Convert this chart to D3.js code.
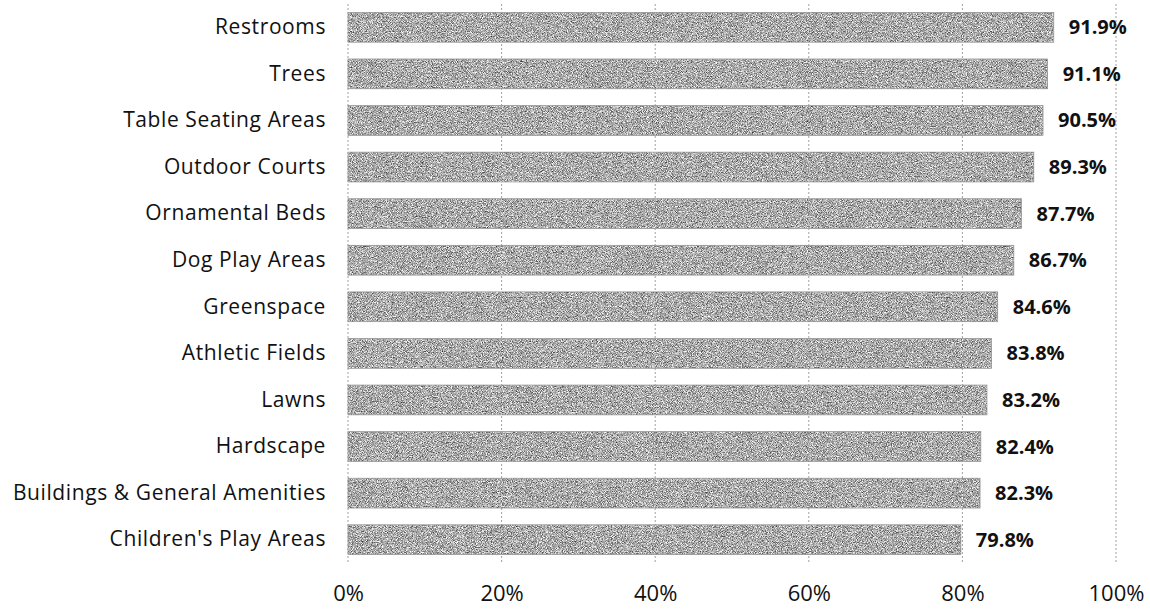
<!DOCTYPE html>
<html>
<head>
<meta charset="utf-8">
<script src="https://cdn.jsdelivr.net/npm/d3@7"></script>
<style>
  html, body { margin: 0; padding: 0; background: #fff; }
  svg text { font-family: "Open Sans", "Noto Sans", sans-serif; }
</style>
</head>
<body>
<svg id="chart" width="1150" height="609"></svg>
<script>
// Satisfaction ratings by park feature
const categories = [
  "Restrooms", "Trees", "Table Seating Areas", "Outdoor Courts",
  "Ornamental Beds", "Dog Play Areas", "Greenspace", "Athletic Fields",
  "Lawns", "Hardscape", "Buildings & General Amenities", "Children's Play Areas"
];
const values = [91.9, 91.1, 90.5, 89.3, 87.7, 86.7, 84.6, 83.8, 83.2, 82.4, 82.3, 79.8];
const tickValues = [0, 20, 40, 60, 80, 100];

const svg = d3.select("#chart");
const plotLeft = 348, plotRight = 1116, plotTop = 4, plotBottom = 563;

const x = d3.scaleLinear().domain([0, 100]).range([plotLeft, plotRight]);
const y = d3.scaleBand().domain(categories).range([plotTop, plotBottom]).paddingInner(0.36).paddingOuter(0.18);

// Grainy grey fill for the bars
const defs = svg.append("defs");
const grain = defs.append("filter").attr("id", "grain")
  .attr("x", 0).attr("y", 0).attr("width", 1).attr("height", 1)
  .attr("color-interpolation-filters", "sRGB");
grain.append("feTurbulence")
  .attr("type", "fractalNoise").attr("baseFrequency", 1.2)
  .attr("numOctaves", 1).attr("seed", 7).attr("result", "noise");
grain.append("feColorMatrix").attr("in", "noise").attr("type", "matrix")
  .attr("values", "1 0 0 0 0  1 0 0 0 0  1 0 0 0 0  0 0 0 0 1").attr("result", "gray");
const tone = grain.append("feComponentTransfer").attr("in", "gray").attr("result", "tone");
["feFuncR", "feFuncG", "feFuncB"].forEach(f =>
  tone.append(f).attr("type", "linear").attr("slope", 1.5).attr("intercept", -0.08));
grain.append("feComposite").attr("in", "tone").attr("in2", "SourceAlpha").attr("operator", "in");

// Vertical gridlines
svg.append("g")
  .selectAll("line").data(tickValues).join("line")
  .attr("x1", d => x(d)).attr("x2", d => x(d))
  .attr("y1", plotTop).attr("y2", plotBottom)
  .attr("stroke", "#a0a0a0").attr("stroke-width", 1)
  .attr("stroke-dasharray", "2,2");

// Bars
const bars = svg.append("g");
bars.selectAll("rect.bar").data(categories).join("rect")
  .attr("class", "bar")
  .attr("x", x(0))
  .attr("y", d => y(d))
  .attr("width", (d, i) => x(values[i]) - x(0))
  .attr("height", y.bandwidth())
  .attr("fill", "#a8a8a8")
  .attr("filter", "url(#grain)");
bars.selectAll("rect.edge").data(categories).join("rect")
  .attr("class", "edge")
  .attr("x", x(0))
  .attr("y", d => y(d))
  .attr("width", (d, i) => x(values[i]) - x(0))
  .attr("height", y.bandwidth())
  .attr("fill", "none")
  .attr("stroke", "#909090").attr("stroke-width", 0.7);

// Category labels
const yAxis = svg.append("g")
  .attr("transform", `translate(${plotLeft - 22},0)`)
  .call(d3.axisLeft(y).tickSize(0).tickPadding(0));
yAxis.select(".domain").remove();
yAxis.selectAll("text")
  .attr("font-size", 21).attr("fill", "#111")
  .attr("letter-spacing", "0.6px")
  .style("font-family", "'Open Sans', sans-serif");

// Value labels
svg.append("g")
  .selectAll("text").data(categories).join("text")
  .attr("x", (d, i) => x(values[i]) + 15)
  .attr("y", d => y(d) + y.bandwidth() / 2)
  .attr("dy", "0.35em")
  .attr("font-size", 20).attr("font-weight", "bold").attr("fill", "#111")
  .text((d, i) => values[i].toFixed(1) + "%");

// Percentage axis
const xAxis = svg.append("g")
  .attr("transform", `translate(0,${plotBottom + 19})`)
  .call(d3.axisBottom(x).tickValues(tickValues).tickFormat(d => d + "%").tickSize(0).tickPadding(0));
xAxis.select(".domain").remove();
xAxis.selectAll("text")
  .attr("font-size", 22).attr("fill", "#111").attr("dy", "0.85em")
  .style("font-family", "'Open Sans', sans-serif");
</script>
</body>
</html>
